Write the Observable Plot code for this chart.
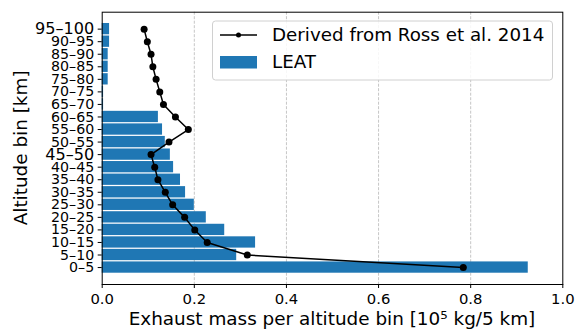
<!DOCTYPE html>
<html>
<head>
<meta charset="utf-8">
<script src="https://cdn.jsdelivr.net/npm/d3@7"></script>
<script src="https://cdn.jsdelivr.net/npm/@observablehq/plot@0.6"></script>
<style>
  html, body { margin: 0; padding: 0; background: #fff; }
  #chart { width: 577px; height: 330px; }
  svg { font-family: "DejaVu Sans", sans-serif; }
</style>
</head>
<body>
<div id="chart"></div>
<script>
// Altitude bins (bottom to top)
const bins = ["0–5","5–10","10–15","15–20","20–25","25–30","30–35","35–40","40–45","45–50",
              "50–55","55–60","60–65","65–70","70–75","75–80","80–85","85–90","90–95","95–100"];
// LEAT exhaust mass per bin [1e5 kg / 5 km]
const leat = [0.925, 0.292, 0.333, 0.266, 0.226, 0.200, 0.181, 0.170, 0.155, 0.148,
              0.137, 0.131, 0.122, 0.003, 0.003, 0.013, 0.013, 0.013, 0.016, 0.016];
// Derived from Ross et al. 2014
const ross = [0.784, 0.315, 0.228, 0.201, 0.179, 0.153, 0.137, 0.121, 0.114, 0.106,
              0.145, 0.187, 0.159, 0.133, 0.125, 0.117, 0.110, 0.106, 0.098, 0.091];
const xTicks = [0, 0.2, 0.4, 0.6, 0.8, 1.0];
const bigLabels = ["95–100", "45–50"];

const data = bins.map((b, i) => ({bin: b, leat: leat[i], ross: ross[i]}));
const yDomain = bins.slice().reverse();
const fmt = d3.format(".1f");

const W = 577, H = 330;
const mL = 101.7, mR = 14.7, mT = 11.7, mB = 46;

const plot = Plot.plot({
  width: W, height: H,
  marginLeft: mL, marginRight: mR, marginTop: mT, marginBottom: mB,
  style: {fontFamily: "DejaVu Sans, sans-serif", background: "white", overflow: "visible"},
  x: {domain: [0, 1], ticks: xTicks, tickFormat: fmt, label: null},
  y: {type: "band", domain: yDomain, paddingInner: 0.1, paddingOuter: 0.9, round: false, label: null},
  marks: [
    Plot.gridX(xTicks.slice(1, -1), {stroke: "#b8b8b8", strokeOpacity: 1, strokeWidth: 0.8, strokeDasharray: "3,1.5"}),
    Plot.barX(data, {x: "leat", y: "bin", fill: "#1f77b4"}),
    Plot.line(data, {x: "ross", y: "bin", stroke: "black", strokeWidth: 1.5}),
    Plot.dot(data, {x: "ross", y: "bin", r: 3.5, fill: "black"}),
    Plot.axisX({ticks: xTicks, tickFormat: fmt, tickSize: 4, tickPadding: 5, stroke: "black", fill: "black", label: null}),
    Plot.axisY({tickSize: 4, tickPadding: 4, stroke: "black", fill: "black", label: null}),
    Plot.frame({stroke: "black", strokeWidth: 1})
  ]
});
document.getElementById("chart").appendChild(plot);

const svg = d3.select(plot);
// Tick label font sizes (two y labels larger, as in the reference)
const xLabels = xTicks.map(fmt);
svg.selectAll("text").each(function() {
  const t = d3.select(this);
  const s = t.text();
  if (bins.includes(s)) t.style("font-size", (bigLabels.includes(s) ? 16.1 : 14.2) + "px");
  else if (xLabels.includes(s)) t.style("font-size", "14.8px");
});

// Axis titles
svg.append("text")
  .attr("x", mL + (W - mL - mR) / 2).attr("y", 324.5)
  .attr("text-anchor", "middle").style("font-size", "18.4px").attr("fill", "black")
  .text("Exhaust mass per altitude bin [10⁵ kg/5 km]");
svg.append("text")
  .attr("transform", `translate(21,${mT + (H - mT - mB) / 2}) rotate(-90)`).attr("dy", "0.35em")
  .attr("text-anchor", "middle").style("font-size", "18.4px").attr("fill", "black")
  .text("Altitude bin [km]");

// Legend
const lg = svg.append("g").attr("text-anchor", "start");
lg.append("rect").attr("x", 212.5).attr("y", 21).attr("width", 340).attr("height", 59)
  .attr("rx", 3).attr("fill", "white").attr("fill-opacity", 0.85).attr("stroke", "#d0d0d0").attr("stroke-width", 1);
lg.append("line").attr("x1", 220).attr("x2", 257).attr("y1", 35).attr("y2", 35).attr("stroke", "black").attr("stroke-width", 1.5);
lg.append("circle").attr("cx", 238.5).attr("cy", 35).attr("r", 2.5).attr("fill", "black");
lg.append("text").attr("x", 272).attr("y", 35).attr("dy", "0.35em").style("font-size", "18.3px").attr("fill", "black")
  .attr("text-anchor", "start").text("Derived from Ross et al. 2014");
lg.append("rect").attr("x", 220).attr("y", 56).attr("width", 37).attr("height", 12.5).attr("fill", "#1f77b4");
lg.append("text").attr("x", 272).attr("y", 62).attr("dy", "0.35em").style("font-size", "18.3px").attr("fill", "black")
  .attr("text-anchor", "start").text("LEAT");
</script>
</body>
</html>
